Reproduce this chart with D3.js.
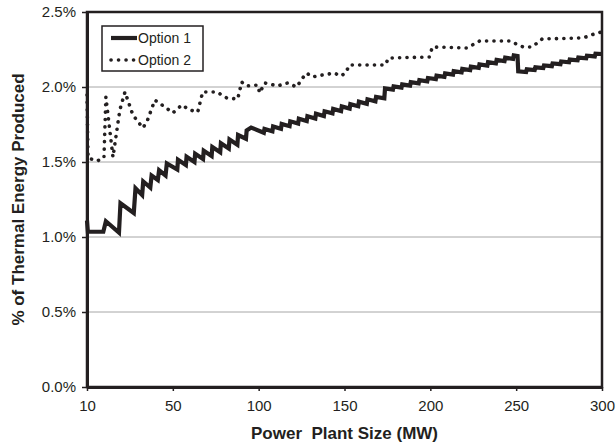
<!DOCTYPE html>
<html>
<head>
<meta charset="utf-8">
<script src="https://cdn.jsdelivr.net/npm/d3@7"></script>
<style>
  body { margin: 0; background: white; }
  text { font-family: "Liberation Sans", Arial, sans-serif; fill: #231f20; }
</style>
</head>
<body>
<div id="wrapper"></div>
<script>
// x axis is a category-like axis: tick labels equally spaced
var xTicks = [10, 50, 100, 150, 200, 250, 300];
var yTicks = [0, 0.5, 1.0, 1.5, 2.0, 2.5];
var seriesNames = ["Option 1", "Option 2"];

// [MW, % of thermal energy]
var option1 = [
    [10,1.11],[10.4,1.035],[17.6,1.035],[18.8,1.105],[24.9,1.03],[25.6,1.225],[31.8,1.16],[32.6,1.325],
    [35.7,1.28],[36.2,1.37],[39.5,1.33],[40.1,1.41],[43.0,1.38],[43.6,1.445],[46.6,1.41],[47.2,1.49],
    [52.6,1.45],[53.0,1.515],[57.6,1.48],[58.0,1.535],[62.6,1.50],[63.0,1.555],[67.6,1.52],[68.0,1.575],
    [72.6,1.54],[73.0,1.60],[77.6,1.565],[78.0,1.625],[82.6,1.59],[83.0,1.65],[87.6,1.615],[88.0,1.68],
    [92.6,1.655],[93.0,1.71],[95.6,1.73],[103.0,1.695],[103.4,1.72],
    [108.0,1.705],[108.4,1.737],[113.0,1.722],[113.4,1.754],[118.0,1.739],[118.4,1.771],[123.0,1.756],[123.4,1.788],
    [128.0,1.773],[128.4,1.805],[133.0,1.79],[133.4,1.822],[138.0,1.807],[138.4,1.838],[143.0,1.824],[143.4,1.854],
    [148.0,1.84],[148.4,1.87],[153.0,1.856],[153.4,1.886],[158.0,1.872],[158.4,1.902],[163.0,1.888],[163.4,1.918],
    [168.0,1.904],[168.4,1.934],[173.2,1.925],[173.6,1.99],
    [178.2,1.982],[178.6,2.004],[183.2,1.996],[183.6,2.018],[188.2,2.01],[188.6,2.032],[193.2,2.024],[193.6,2.046],
    [198.2,2.038],[198.6,2.06],[203.2,2.052],[203.6,2.075],[208.2,2.067],[208.6,2.09],[213.2,2.082],[213.6,2.105],
    [218.2,2.097],[218.6,2.12],[223.2,2.112],[223.6,2.135],[228.2,2.127],[228.6,2.15],[233.2,2.142],[233.6,2.165],
    [238.2,2.157],[238.6,2.18],[243.2,2.172],[243.6,2.195],[248.2,2.187],[248.6,2.21],[250.8,2.206],[251.2,2.105],
    [255.8,2.1],[256.2,2.118],[260.8,2.113],[261.2,2.131],[265.8,2.126],[266.2,2.144],[270.8,2.139],[271.2,2.157],
    [275.8,2.152],[276.2,2.17],[280.8,2.165],[281.2,2.183],[285.8,2.178],[286.2,2.196],[290.8,2.191],[291.2,2.209],
    [295.8,2.204],[296.2,2.222],[300,2.22]
];

var option2 = [
    [10,1.947],[10.5,1.527],[14.7,1.507],[17.9,1.527],[18.8,1.933],[22.1,1.533],[25.3,1.847],[27.7,1.967],
    [31.4,1.813],[36.0,1.727],[37.9,1.767],[41.6,1.913],[46.3,1.867],[50,1.827],[55.2,1.88],[59.9,1.847],
    [64.5,1.833],[67.4,1.967],[75.6,1.967],[81.4,1.927],[87.8,1.92],[90.1,2.033],[93.0,2.007],[99.4,2.013],
    [100.6,1.96],[103.5,2.027],[111.0,2.007],[116.9,2.027],[122.1,2.0],[125.6,2.06],[127.9,2.093],[131.4,2.067],
    [137.2,2.08],[144.2,2.093],[147.7,2.073],[150.6,2.093],[152.9,2.147],[173.8,2.147],[175.6,2.193],[199.4,2.2],
    [201.2,2.267],[221.2,2.26],[228.8,2.307],[246.5,2.307],[251.2,2.28],[254.1,2.267],[259.3,2.267],[265.1,2.32],
    [289.0,2.327],[297.1,2.36],[300,2.367]
];

var ink = "#231f20";

var dimension = {
    width: 616,
    height: 445,
    margin: { top: 12, right: 14, bottom: 58, left: 87 }
};
dimension.boundedWidth  = dimension.width  - dimension.margin.left - dimension.margin.right;
dimension.boundedHeight = dimension.height - dimension.margin.top  - dimension.margin.bottom;

var svg = d3.select("#wrapper")
    .append("svg")
    .attr("width", dimension.width)
    .attr("height", dimension.height);

var g = svg.append("g")
    .attr("transform", "translate(" + dimension.margin.left + "," + dimension.margin.top + ")");

// piecewise scale so the labelled categories sit at equal steps
var x = d3.scaleLinear()
    .domain(xTicks)
    .range(xTicks.map((d, i) => i * dimension.boundedWidth / (xTicks.length - 1)));

var y = d3.scaleLinear()
    .domain([0, 2.5])
    .range([dimension.boundedHeight, 0]);

// gridlines
g.append("g")
    .selectAll("line")
    .data(yTicks.filter(d => d > 0 && d < 2.5))
    .enter()
    .append("line")
    .attr("x1", 0)
    .attr("x2", dimension.boundedWidth)
    .attr("y1", d => y(d))
    .attr("y2", d => y(d))
    .attr("stroke", "#a6a6a6")
    .attr("stroke-width", 1);

// plot frame
g.append("rect")
    .attr("x", 0)
    .attr("y", 0)
    .attr("width", dimension.boundedWidth)
    .attr("height", dimension.boundedHeight)
    .attr("fill", "none")
    .attr("stroke", ink)
    .attr("stroke-width", 2.5);

// Add X axis
var xAxis = g.append("g")
    .attr("transform", "translate(0," + dimension.boundedHeight + ")")
    .call(d3.axisBottom(x).tickValues(xTicks).tickSize(4).tickSizeOuter(0).tickFormat(d3.format("d")));
xAxis.select(".domain").attr("stroke", ink).attr("stroke-width", 3);
xAxis.selectAll(".tick line").attr("stroke", ink).attr("stroke-width", 1.5);
xAxis.selectAll(".tick text")
    .attr("y", 13)
    .style("font-size", "15px")
    .style("fill", ink);

// Add Y axis
var yAxis = g.append("g")
    .call(d3.axisLeft(y).tickValues(yTicks).tickSize(5).tickSizeOuter(0).tickFormat(d => d.toFixed(1) + "%"));
yAxis.select(".domain").attr("stroke", ink).attr("stroke-width", 3);
yAxis.selectAll(".tick line").attr("stroke", ink).attr("stroke-width", 1.5);
yAxis.selectAll(".tick text")
    .attr("x", -11)
    .style("font-size", "15px")
    .style("fill", ink);

// axis titles
svg.append("text")
    .attr("x", dimension.margin.left + dimension.boundedWidth / 2)
    .attr("y", 439)
    .attr("text-anchor", "middle")
    .style("font-size", "17px")
    .style("font-weight", "bold")
    .style("white-space", "pre")
    .text("Power  Plant Size (MW)");

svg.append("text")
    .attr("transform", "translate(24," + (dimension.margin.top + dimension.boundedHeight / 2) + ") rotate(-90)")
    .attr("text-anchor", "middle")
    .style("font-size", "17px")
    .style("font-weight", "bold")
    .text("% of Thermal Energy Produced");

// lines
var line = d3.line()
    .x(d => x(d[0]))
    .y(d => y(d[1]));

g.append("path")
    .datum(option2)
    .attr("d", line)
    .attr("fill", "none")
    .attr("stroke", ink)
    .attr("stroke-width", 3.6)
    .attr("stroke-linecap", "round")
    .attr("stroke-dasharray", "0.1 7.3");

g.append("path")
    .datum(option1)
    .attr("d", line)
    .attr("fill", "none")
    .attr("stroke", ink)
    .attr("stroke-width", 4.2)
    .attr("stroke-linejoin", "miter")
    .attr("stroke-miterlimit", 3);

// legend
var legend = svg.append("g").attr("transform", "translate(102,26)");
legend.append("rect")
    .attr("width", 101)
    .attr("height", 45)
    .attr("fill", "white")
    .attr("stroke", ink)
    .attr("stroke-width", 1.5);

var legendRows = legend.selectAll("g.row")
    .data(seriesNames)
    .enter()
    .append("g")
    .attr("class", "row")
    .attr("transform", (d, i) => "translate(0," + (12 + i * 22) + ")");

legendRows.append("line")
    .attr("x1", 9)
    .attr("x2", 35)
    .attr("stroke", ink)
    .attr("stroke-width", (d, i) => i === 0 ? 4.2 : 3.6)
    .attr("stroke-linecap", (d, i) => i === 0 ? "butt" : "round")
    .attr("stroke-dasharray", (d, i) => i === 0 ? null : "0.1 7.4");

legendRows.append("text")
    .attr("x", 36)
    .attr("dy", "0.35em")
    .style("font-size", "14px")
    .text(d => d);
</script>
</body>
</html>
